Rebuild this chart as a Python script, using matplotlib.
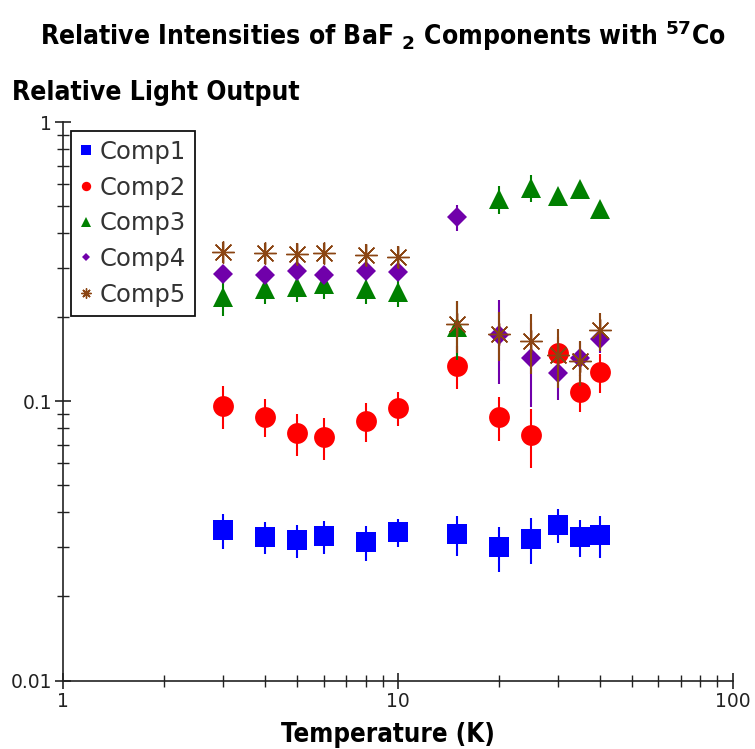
import matplotlib
matplotlib.use("Agg")
import matplotlib.pyplot as plt
from matplotlib.ticker import LogLocator, NullFormatter, FixedLocator, FixedFormatter

# ---------------- data ----------------
temp_low = [3, 4, 5, 6, 8, 10]
temp_high = [15, 20, 25, 30, 35, 40]
temperature = temp_low + temp_high

comp1 = [0.0346, 0.0326, 0.0318, 0.0329, 0.0313, 0.0340,
         0.0334, 0.0300, 0.0321, 0.0360, 0.0326, 0.0331]
comp1_err = [0.005, 0.0043, 0.0044, 0.0045, 0.0044, 0.004,
             0.0055, 0.0056, 0.006, 0.005, 0.005, 0.0056]

comp2 = [0.0966, 0.0882, 0.0769, 0.0744, 0.0853, 0.0948,
         0.1344, 0.0880, 0.0758, 0.1496, 0.1080, 0.1276]
comp2_err = [0.017, 0.0137, 0.013, 0.0125, 0.0135, 0.013,
             0.024, 0.016, 0.018, 0.02, 0.016, 0.02]

comp3 = [0.2375, 0.253, 0.2566, 0.2636, 0.253, 0.2475,
         0.1845, 0.530, 0.581, 0.5437, 0.576, 0.490]
comp3_err = [0.035, 0.03, 0.03, 0.03, 0.03, 0.03,
             0.044, 0.06, 0.065, 0.03, 0.03, 0.03]

comp4 = [0.2864, 0.283, 0.2943, 0.2847, 0.293, 0.292,
         0.457, 0.173, 0.1435, 0.1262, 0.1435, 0.1675]
comp4_err = [0.02, 0.02, 0.02, 0.02, 0.02, 0.02,
             0.05, 0.058, 0.048, 0.025, 0.02, 0.018]

comp5 = [0.3425, 0.340, 0.338, 0.340, 0.335, 0.330,
         0.189, 0.174, 0.165, 0.1468, 0.139, 0.180]
comp5_err = [0.03, 0.03, 0.03, 0.03, 0.03, 0.03,
             0.04, 0.035, 0.04, 0.035, 0.025, 0.028]

labels = ["Comp1", "Comp2", "Comp3", "Comp4", "Comp5"]
x_ticks = [1, 10, 100]
x_tick_labels = ["1", "10", "100"]
y_ticks = [0.01, 0.1, 1]
y_tick_labels = ["0.01", "0.1", "1"]

# ---------------- style ----------------
colors = ["#0000FF", "#FF0000", "#008000", "#7000AA", "#8B4513"]
markers = ["s", "o", "^", "D", (8, 2, 0)]
msizes = [15, 15, 14.5, 10, 16]

W, H, DPI = 755, 749, 100
fig = plt.figure(figsize=(W / DPI, H / DPI), dpi=DPI)
ax = fig.add_axes([63.3 / W, 1 - 680.5 / H, (732.7 - 63.3) / W, (680.5 - 122.3) / H])

series = [(comp1, comp1_err), (comp2, comp2_err), (comp3, comp3_err),
          (comp4, comp4_err), (comp5, comp5_err)]

handles = []
for i, (vals, errs) in enumerate(series):
    ax.errorbar(temperature, vals, yerr=errs, fmt="none", ecolor=colors[i],
                elinewidth=1.5, capsize=0, zorder=2 + i)
    mew = 1.0 if i == 4 else 0
    h, = ax.plot(temperature, vals, linestyle="none", marker=markers[i],
                 markersize=msizes[i], color=colors[i], markeredgecolor=colors[i],
                 markeredgewidth=mew, label=labels[i], zorder=2.5 + i)
    handles.append(h)

ax.set_xscale("log")
ax.set_yscale("log")
ax.set_xlim(1, 100)
ax.set_ylim(0.01, 1)

for s in ["top", "right"]:
    ax.spines[s].set_visible(False)
for s in ["left", "bottom"]:
    ax.spines[s].set_linewidth(1.2)
    ax.spines[s].set_color("#222222")

ax.xaxis.set_major_locator(FixedLocator(x_ticks))
ax.xaxis.set_major_formatter(FixedFormatter(x_tick_labels))
ax.yaxis.set_major_locator(FixedLocator(y_ticks))
ax.yaxis.set_major_formatter(FixedFormatter(y_tick_labels))
ax.xaxis.set_minor_locator(LogLocator(base=10, subs=range(2, 10)))
ax.yaxis.set_minor_locator(LogLocator(base=10, subs=range(2, 10)))
ax.xaxis.set_minor_formatter(NullFormatter())
ax.yaxis.set_minor_formatter(NullFormatter())
ax.tick_params(which="major", direction="inout", length=12, width=1.2,
               color="#222222", labelsize=13.5, labelcolor="#222222", pad=2)
ax.tick_params(which="minor", direction="inout", length=8, width=1.0,
               color="#222222")

leg = ax.legend(handles=handles, loc="upper left",
                bbox_to_anchor=(7.4 / 669.4, 1 - 8.4 / 558.2),
                borderaxespad=0, fontsize=17.5, markerscale=0.45,
                handlelength=0.5, handletextpad=0.3, labelspacing=0.48,
                borderpad=0.38, fancybox=False, framealpha=1,
                edgecolor="#111111", labelcolor="#333333")
leg.get_frame().set_linewidth(1.3)

fig.text(383 / W, 1 - 36 / H,
         r"Relative Intensities of BaF $_{\mathbf{2}}$ Components with $^{\mathbf{57}}$Co",
         ha="center", va="center", fontsize=19, fontweight="bold",
         fontstretch="condensed", family="DejaVu Sans")
fig.text(12 / W, 1 - 93 / H, "Relative Light Output", ha="left", va="center",
         fontsize=19, fontweight="bold", fontstretch="condensed",
         family="DejaVu Sans")
fig.text(388 / W, 1 - 735 / H, "Temperature (K)", ha="center", va="center",
         fontsize=18.5, fontweight="bold", fontstretch="condensed",
         family="DejaVu Sans")

fig.savefig("out.png", dpi=DPI)
